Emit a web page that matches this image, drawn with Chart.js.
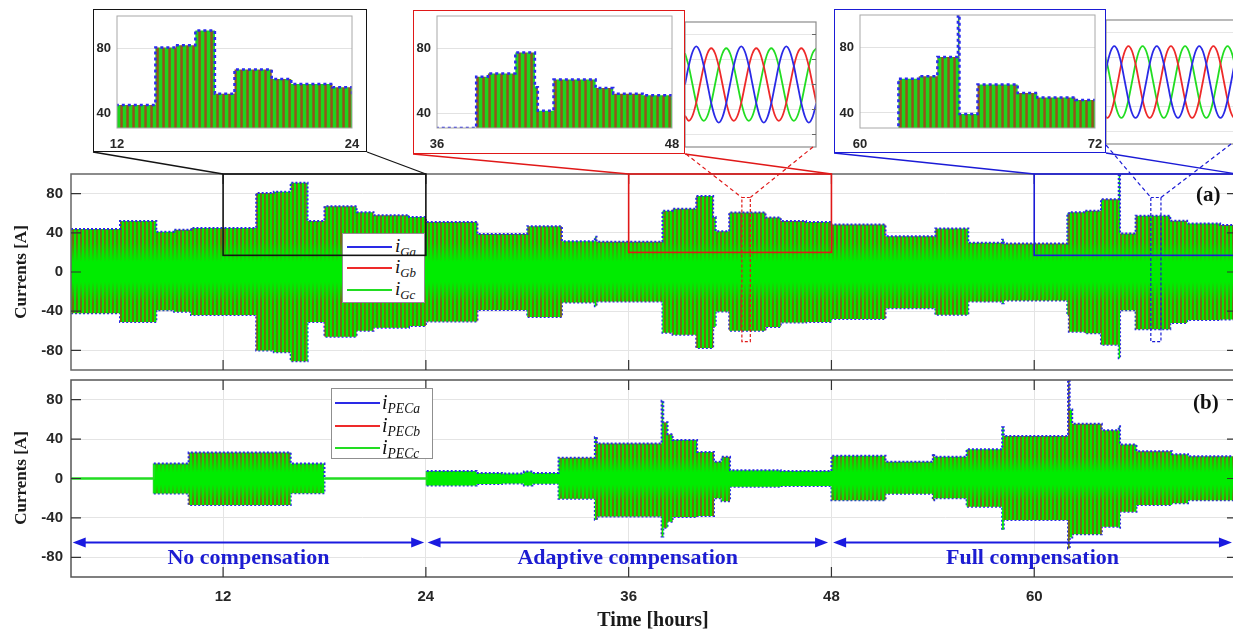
<!DOCTYPE html>
<html><head><meta charset="utf-8">
<script src="https://cdn.jsdelivr.net/npm/chart.js@4.4.1/dist/chart.umd.min.js"></script>
<style>
html,body{margin:0;padding:0;background:#fff;}
body{width:1233px;height:630px;overflow:hidden;position:relative;}
canvas{position:absolute;display:block;}
.fr{position:absolute;box-sizing:border-box;background:#fff;}
.t{position:absolute;white-space:nowrap;font-family:"Liberation Serif","Times New Roman",serif;line-height:1;}
.lg{position:absolute;box-sizing:border-box;background:#fff;border:1px solid #8f8f8f;}
.ll{position:absolute;height:2px;}
.li{position:absolute;font-family:"Liberation Serif",serif;font-style:italic;white-space:nowrap;line-height:1;color:#111;}
.li sub{font-size:0.68em;vertical-align:-0.3em;}
</style></head><body>
<canvas id="cA"></canvas>
<canvas id="cB"></canvas>
<div id="legs"></div>
<canvas id="s2"></canvas>
<canvas id="s3"></canvas>
<div class="fr" style="left:93px;top:9px;width:274px;height:143px;border:1.6px solid #141414"></div>
<div class="fr" style="left:413px;top:10px;width:272px;height:144px;border:1.6px solid #e01818"></div>
<div class="fr" style="left:834px;top:9px;width:272px;height:144px;border:1.6px solid #1b1bd6"></div>
<canvas id="i1"></canvas>
<canvas id="i2"></canvas>
<canvas id="i3"></canvas>
<canvas id="ov" width="1233" height="630" style="left:0;top:0"></canvas>
<div class="t" style="left:20px;top:272px;transform:translate(-50%,-50%) rotate(-90deg);font-size:17px;font-weight:bold;color:#1a1a1a">Currents [A]</div>
<div class="t" style="left:20px;top:478px;transform:translate(-50%,-50%) rotate(-90deg);font-size:17px;font-weight:bold;color:#1a1a1a">Currents [A]</div>
<div class="t" style="left:653px;top:619px;transform:translate(-50%,-50%);font-size:20px;font-weight:bold;color:#1a1a1a">Time [hours]</div>
<div class="t" style="left:1196px;top:184px;font-size:21px;font-weight:bold;color:#111">(a)</div>
<div class="t" style="left:1193px;top:392px;font-size:21px;font-weight:bold;color:#111">(b)</div>
<div id="comps"></div>
<script>
// ================= DATA =================
const xTicks = [12, 24, 36, 48, 60];
const yTicks = [-80, -40, 0, 40, 80];
const insetYTicks = [40, 80];

// Grid currents i_G: segment start times [h] (last entry = end) and envelope values [A]
const gaT  = [3.0, 5.9, 8.05, 9.1, 10.1, 13.96, 15.0, 16.0, 17.0, 18.0, 19.9, 20.9, 23.0, 24.0, 27.05, 30.0, 32.05, 34.0, 34.1, 38.0, 38.6, 40.0, 41.0, 41.15, 41.95, 44.1, 45.0, 46.5, 48.0, 51.2, 54.15, 56.1, 58.1, 58.2, 61.96, 62.05, 63.0, 63.95, 65.0, 65.08, 66.0, 68.05, 69.05, 71.0, 72.0];
const gaUp = [44, 52, 41, 43, 45, 80.5, 82, 91, 52, 67, 61, 58, 56, 51, 38.7, 46.8, 31.5, 36, 30.8, 62.5, 64.5, 77.5, 56, 41.5, 60.7, 55.5, 52, 51, 48.5, 36.6, 44.4, 29.8, 33, 29.2, 60, 61, 62.5, 74.3, 100, 39.4, 57.5, 52.3, 49.5, 48];
const gaLo = [-42, -51, -39, -40.5, -44, -80, -82, -91, -51, -66, -60, -57, -55, -50.5, -38.7, -46, -31.2, -35, -30, -62, -64, -77.6, -56, -40.3, -60, -56, -51.5, -51, -48, -37, -43.7, -30.2, -32, -29, -44, -61, -62.4, -74.3, -88, -39, -58.3, -52, -49, -48.5];

// PEC currents i_PEC
const pecT  = [3.0, 7.9, 9.96, 16.0, 18.0, 24.05, 27.0, 28.5, 29.8, 30.3, 31.85, 34.0, 34.12, 37.95, 38.05, 38.3, 38.6, 40.05, 41.05, 41.5, 42.0, 45.0, 48.0, 51.2, 54.0, 54.08, 56.0, 58.1, 58.2, 62.0, 62.1, 62.25, 64.0, 65.0, 65.08, 66.05, 68.15, 69.1, 72.0];
const pecUp = [0, 15.2, 26.3, 15.2, 0, 7.5, 5.5, 5, 7, 5.6, 21, 42, 35.5, 79, 57, 45, 39, 27, 17, 22, 8.4, 7.5, 23, 17, 25, 22, 29.7, 52, 43.2, 100, 70, 55.7, 49, 53, 34.4, 27.6, 24.7, 22.6];
const pecLo = [0, -15.2, -27, -15, 0, -7, -5.5, -5, -7, -5.3, -20.5, -42, -38.5, -59, -50, -44, -39, -38, -20, -23, -8.5, -7.5, -22, -15.5, -22, -20, -28.7, -52, -42.2, -71, -60, -56.7, -49, -50, -33.8, -27, -25, -22];

// Detail waveforms (sample step in ms)
const sineStep = 1.667;
const s2Blue  = [0,30,52,61,52,30,0,-30,-52,-61,-52,-30, 0,30,52,61,52,30,0,-30,-52,-61,-52,-30, 0,30,52,61,52,30,0,-30,-52,-61,-52,-30];
const s2Red   = [-50,-58,-50,-29,0,29,50,58,50,29,0,-29, -50,-58,-50,-29,0,29,50,58,50,29,0,-29, -50,-58,-50,-29,0,29,50,58,50,29,0,-29];
const s2Green = [50,29,0,-29,-50,-58,-50,-29,0,29,50,58, 50,29,0,-29,-50,-58,-50,-29,0,29,50,58, 50,29,0,-29,-50,-58,-50,-29,0,29,50,58];
const s3Blue  = [0,29,50,58,50,29,0,-29,-50,-58,-50,-29, 0,29,50,58,50,29,0,-29,-50,-58,-50,-29, 0,29,50,58,50,29,0,-29,-50,-58,-50,-29, 0,29,50,58];
const s3Red   = [-50,-58,-50,-29,0,29,50,58,50,29,0,-29, -50,-58,-50,-29,0,29,50,58,50,29,0,-29, -50,-58,-50,-29,0,29,50,58,50,29,0,-29, -50,-58,-50,-29];
const s3Green = [50,29,0,-29,-50,-58,-50,-29,0,29,50,58, 50,29,0,-29,-50,-58,-50,-29,0,29,50,58, 50,29,0,-29,-50,-58,-50,-29,0,29,50,58, 50,29,0,-29];

const insetRanges = [[12, 24], [36, 48], [60, 72]];
const zoomBoxY = [[17, 100], [20, 100], [17, 100]];
const detailX = [[42.7, 43.2], [66.9, 67.5]];
const detailY = [-71, 76];
const compStart = [3.1, 24.1, 48.1];
const compEnd = [23.9, 47.8, 71.7];
const compArrowY = -65;
const compTextY = -80;
const compLabels = ['No compensation', 'Adaptive compensation', 'Full compensation'];
const legendA = ['Ga', 'Gb', 'Gc'];
const legendB = ['PECa', 'PECb', 'PECc'];

// ================= STYLE / HELPERS =================
const BLUE = '#2a2ae6', RED = '#ee2a2a', GREEN = '#22dd22';
const TICKFONT = {family: 'Liberation Sans, Arial, sans-serif', weight: 'bold', size: 15};

function steps(T, V) {
  return V.map((v, i) => ({x: T[i], y: v})).concat([{x: T[T.length - 1], y: V[V.length - 1]}]);
}
function place(id, a, p) {
  const c = document.getElementById(id);
  const W = Math.round(a.r - a.l + p.l + p.r), H = Math.round(a.b - a.t + p.t + p.b);
  c.width = W; c.height = H; c.style.width = W + 'px'; c.style.height = H + 'px';
  c.style.left = (a.l - p.l) + 'px'; c.style.top = (a.t - p.t) + 'px';
  return c;
}
function stripePattern(chart, fadeIn, fadeFull) {
  const a = chart.chartArea; if (!a) return '#00ee00';
  if (chart.$pat) return chart.$pat;
  const c = document.createElement('canvas'); c.width = chart.width; c.height = chart.height;
  const g = c.getContext('2d');
  g.fillStyle = '#00ec00'; g.fillRect(0, 0, c.width, c.height);
  const y0 = chart.scales.y.getPixelForValue(0), H = c.height;
  const gr = g.createLinearGradient(0, 0, 0, H);
  const st = (p, al) => gr.addColorStop(Math.min(1, Math.max(0, p / H)), 'rgba(118,104,22,' + al + ')');
  st(0, 0.95); st(y0 - fadeFull, 0.95); st(y0 - fadeIn, 0); st(y0 + fadeIn, 0); st(y0 + fadeFull, 0.95); st(H, 0.95);
  g.fillStyle = gr;
  for (let x = Math.floor(a.left) + 1; x < a.right; x += 4) g.fillRect(x, 0, 2, H);
  chart.$pat = g.createPattern(c, 'no-repeat');
  return chart.$pat;
}
function insetPattern(chart) {
  const a = chart.chartArea; if (!a) return '#1ed41e';
  if (chart.$pat) return chart.$pat;
  const c = document.createElement('canvas'); c.width = chart.width; c.height = chart.height;
  const g = c.getContext('2d');
  g.fillStyle = '#1ed41e'; g.fillRect(0, 0, c.width, c.height);
  const cols = ['#6f7c17', '#9a4e1d', '#76701a'];
  for (let x = Math.floor(a.left); x < a.right; x += 6) cols.forEach((cl, k) => { g.fillStyle = cl; g.fillRect(x + 3 + k, 0, 1, c.height); });
  chart.$pat = g.createPattern(c, 'no-repeat');
  return chart.$pat;
}
const framePlugin = {
  id: 'frame',
  afterDraw(chart, args, o) {
    if (!o || !o.color) return;
    const {ctx, chartArea: a} = chart;
    ctx.save();
    ctx.strokeStyle = o.color; ctx.lineWidth = o.width || 1;
    ctx.strokeRect(a.left, a.top, a.right - a.left, a.bottom - a.top);
    if (o.tick) {
      ctx.strokeStyle = o.tickColor || o.color; ctx.lineWidth = 1.2; ctx.beginPath();
      if (o.xt) chart.scales.x.ticks.forEach(t => { const x = chart.scales.x.getPixelForValue(t.value);
        ctx.moveTo(x, a.bottom); ctx.lineTo(x, a.bottom - o.tick); ctx.moveTo(x, a.top); ctx.lineTo(x, a.top + o.tick); });
      chart.scales.y.ticks.forEach(t => { const y = chart.scales.y.getPixelForValue(t.value);
        if (o.yl) { ctx.moveTo(a.left, y); ctx.lineTo(a.left + o.tick, y); }
        if (o.yr) { ctx.moveTo(a.right, y); ctx.lineTo(a.right - o.tick, y); } });
      ctx.stroke();
    }
    ctx.restore();
  }
};
function baseOpts(p, xmin, xmax, ymin, ymax, xt, yt) {
  return {
    responsive: false, animation: false, events: [],
    layout: {padding: {left: 0, top: p.t, right: p.r, bottom: 0}},
    plugins: {legend: {display: false}, tooltip: {enabled: false}},
    scales: {
      x: {type: 'linear', min: xmin, max: xmax,
          afterBuildTicks: s => { s.ticks = xt.map(v => ({value: v})); },
          afterFit: s => { s.height = p.b; s.paddingLeft = 0; s.paddingRight = 0; },
          grid: {color: '#e4e4e4', drawTicks: false}, border: {display: false},
          ticks: {display: false, autoSkip: false, maxRotation: 0, color: '#262626', font: TICKFONT}},
      y: {type: 'linear', min: ymin, max: ymax,
          afterBuildTicks: s => { s.ticks = yt.map(v => ({value: v})); },
          afterFit: s => { s.width = p.l; s.paddingTop = 0; s.paddingBottom = 0; },
          grid: {color: '#e4e4e4', drawTicks: false}, border: {display: false},
          ticks: {display: true, padding: 8, color: '#262626', font: TICKFONT}}
    }
  };
}
function envDatasets(T, up, lo, patFn) {
  const seg = {
    borderColor: c => (c.p0.parsed.y === 0 ? GREEN : undefined),
    borderDash: c => (c.p0.parsed.y === 0 ? [] : undefined)
  };
  return [
    {data: steps(T, up), stepped: true, borderColor: BLUE, borderDash: [2, 2], borderWidth: 2, pointRadius: 0,
     fill: '+1', backgroundColor: patFn, segment: seg},
    {data: steps(T, lo), stepped: true, borderColor: BLUE, borderDash: [2, 2], borderWidth: 2, pointRadius: 0,
     fill: false, segment: seg}
  ];
}

// ================= MAIN PANELS =================
const aA = {l: 71, t: 174, r: 1237, b: 370}, pA = {l: 71, t: 10, r: 6, b: 4};
const cvA = place('cA', aA, pA);
const optA = baseOpts(pA, 3, 72, -100, 100, xTicks, yTicks);
optA.plugins.frame = {color: '#666', width: 1.5, tick: 10, xt: true, yl: true, yr: true, tickColor: '#333'};
const chartA = new Chart(cvA, {type: 'line',
  data: {datasets: envDatasets(gaT, gaUp, gaLo, ctx => stripePattern(ctx.chart, 10, 30))},
  options: optA, plugins: [framePlugin]});

const aB = {l: 71, t: 380, r: 1237, b: 577}, pB = {l: 71, t: 4, r: 6, b: 36};
const cvB = place('cB', aB, pB);
const optB = baseOpts(pB, 3, 72, -100, 100, xTicks, yTicks);
optB.scales.x.ticks.display = true; optB.scales.x.ticks.padding = 11;
optB.plugins.frame = {color: '#555', width: 1.5, tick: 10, xt: true, yl: true, yr: true, tickColor: '#333'};
const chartB = new Chart(cvB, {type: 'line',
  data: {datasets: envDatasets(pecT, pecUp, pecLo, ctx => stripePattern(ctx.chart, 6, 22))},
  options: optB, plugins: [framePlugin]});

// ================= ZOOM INSETS =================
const insetAreas = [{l: 117, t: 16, r: 352, b: 128}, {l: 437, t: 16, r: 672, b: 128}, {l: 860, t: 15, r: 1095, b: 128}];
const pI = {l: 22, t: 4, r: 12, b: 24};
['i1', 'i2', 'i3'].forEach((id, k) => {
  const cv = place(id, insetAreas[k], pI);
  const o = baseOpts(pI, insetRanges[k][0], insetRanges[k][1], 30.8, 100, insetRanges[k], insetYTicks);
  o.scales.x.grid.display = false;
  o.scales.x.ticks.display = true; o.scales.x.ticks.padding = 9;
  o.scales.x.ticks.font = {family: 'Liberation Sans, Arial, sans-serif', weight: 'bold', size: 13};
  o.scales.y.ticks.font = {family: 'Liberation Sans, Arial, sans-serif', weight: 'bold', size: 13};
  o.scales.y.ticks.padding = 6;
  o.scales.y.grid.color = '#e2e2e2';
  o.plugins.frame = {color: '#a8a8a8', width: 1};
  new Chart(cv, {type: 'line',
    data: {datasets: [{data: steps(gaT, gaUp), stepped: true, borderColor: '#2b2bf0', borderDash: [3, 3], borderWidth: 2.5,
      pointRadius: 0, fill: 'start', backgroundColor: ctx => insetPattern(ctx.chart)}]},
    options: o, plugins: [framePlugin]});
});

// ================= SINE DETAIL INSETS =================
function sineChart(id, area, xmin, xmax, series) {
  const p = {l: 1, t: 1, r: 1, b: 1};
  const cv = place(id, area, p);
  const o = baseOpts(p, xmin, xmax, -100, 100, [], yTicks);
  o.scales.x.grid.display = false;
  o.scales.y.ticks.display = false;
  o.scales.y.grid.color = '#e6e6e6';
  o.plugins.frame = {color: '#8c8c8c', width: 1.2, tick: 4, yr: true, tickColor: '#666'};
  const cols = [BLUE, RED, GREEN];
  return new Chart(cv, {type: 'line',
    data: {datasets: series.map((vals, k) => ({data: vals.map((v, i) => ({x: i * sineStep, y: v})),
      borderColor: cols[k], borderWidth: 1.8, pointRadius: 0, cubicInterpolationMode: 'monotone', fill: false}))},
    options: o, plugins: [framePlugin]});
}
sineChart('s2', {l: 685, t: 22, r: 816, b: 147}, 0, 58.2, [s2Blue, s2Red, s2Green]);
sineChart('s3', {l: 1106, t: 20, r: 1240, b: 144}, 1.1, 64.2, [s3Blue, s3Red, s3Green]);

// ================= LEGENDS =================
(function () {
  const host = document.getElementById('legs');
  let h = '';
  const mk = (box, rows, lx, lw, tx, labels, isz) => {
    h += `<div class="lg" style="left:${box[0]}px;top:${box[1]}px;width:${box[2]}px;height:${box[3]}px"></div>`;
    rows.forEach((y, k) => {
      h += `<div class="ll" style="left:${lx}px;top:${y - 1}px;width:${lw}px;background:${[BLUE, RED, GREEN][k]}"></div>`;
      h += `<div class="li" style="left:${tx}px;top:${y - 11}px;font-size:${isz}px">i<sub>${labels[k]}</sub></div>`;
    });
  };
  mk([342, 233, 83, 70], [246.5, 268.3, 290.3], 347, 45, 395, legendA, 19);
  mk([331, 388, 102, 71], [403.3, 425.7, 448.3], 335, 45, 382, legendB, 20);
  host.innerHTML = h;
})();

// ================= OVERLAY: zoom boxes, connectors, arrows =================
(function () {
  const g = document.getElementById('ov').getContext('2d');
  const PA = (x, y) => [parseFloat(cvA.style.left) + chartA.scales.x.getPixelForValue(x), parseFloat(cvA.style.top) + chartA.scales.y.getPixelForValue(y)];
  const PB = (x, y) => [parseFloat(cvB.style.left) + chartB.scales.x.getPixelForValue(x), parseFloat(cvB.style.top) + chartB.scales.y.getPixelForValue(y)];
  const line = (p, q, col, w, dash) => { g.save(); g.strokeStyle = col; g.lineWidth = w; g.setLineDash(dash || []);
    g.beginPath(); g.moveTo(p[0], p[1]); g.lineTo(q[0], q[1]); g.stroke(); g.restore(); };
  const rect = (p, q, col, w, dash) => { g.save(); g.strokeStyle = col; g.lineWidth = w; g.setLineDash(dash || []);
    g.strokeRect(p[0], p[1], q[0] - p[0], q[1] - p[1]); g.restore(); };
  const cols = ['#141414', '#e01818', '#1b1bd6'];
  const insetBottoms = [[[93, 152], [367, 152]], [[413, 154], [685, 154]], [[834, 153], [1106, 153]]];
  insetRanges.forEach((r, k) => {
    const tl = PA(r[0], zoomBoxY[k][1]), br = PA(r[1], zoomBoxY[k][0]), tr = PA(r[1], zoomBoxY[k][1]);
    rect(tl, br, cols[k], 1.6);
    line(insetBottoms[k][0], tl, cols[k], 1.3);
    line(insetBottoms[k][1], tr, cols[k], 1.3);
  });
  const detailFrom = [[[686, 154], [813, 147]], [[1106, 145], [1231, 144]]];
  detailX.forEach((r, k) => {
    const c = cols[k + 1];
    const tl = PA(r[0], detailY[1]), br = PA(r[1], detailY[0]), tr = PA(r[1], detailY[1]);
    rect(tl, br, c, 1.2, [3, 2]);
    line(detailFrom[k][0], tl, c, 1.2, [4, 3]);
    line(detailFrom[k][1], tr, c, 1.2, [4, 3]);
  });
  // compensation arrows
  const AC = '#1a1ae0';
  const head = (tip, dir) => { g.beginPath(); g.moveTo(tip[0], tip[1]); g.lineTo(tip[0] - dir * 13, tip[1] - 5); g.lineTo(tip[0] - dir * 13, tip[1] + 5); g.closePath(); g.fill(); };
  g.fillStyle = AC;
  let ch = '';
  compStart.forEach((s, k) => {
    const p = PB(s, compArrowY), q = PB(compEnd[k], compArrowY);
    line([p[0] + 6, p[1]], [q[0] - 6, q[1]], AC, 2);
    head(p, -1); head(q, 1);
    const m = PB((s + compEnd[k]) / 2, compTextY);
    ch += `<div class="t" style="left:${m[0]}px;top:${m[1]}px;transform:translate(-50%,-50%);font-size:22px;font-weight:bold;color:#1c1cd2">${compLabels[k]}</div>`;
  });
  document.getElementById('comps').innerHTML = ch;
})();
</script>
</body></html>
